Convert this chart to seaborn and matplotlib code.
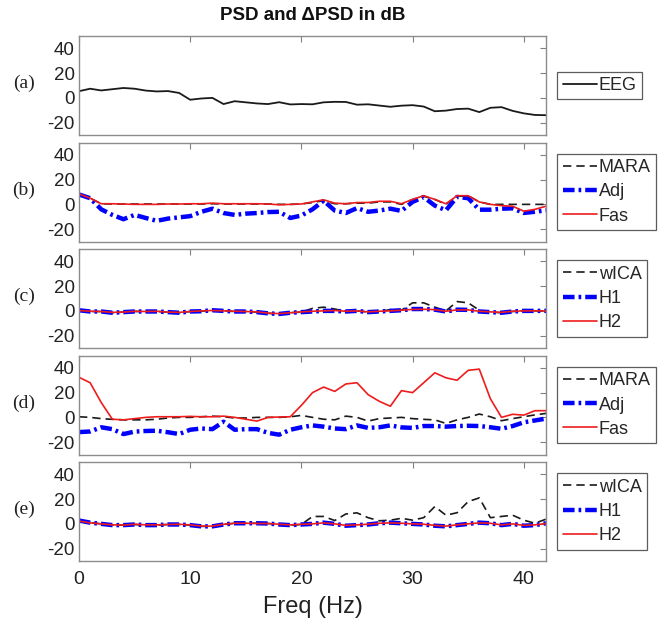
import numpy as np
import pandas as pd
import matplotlib
matplotlib.use("Agg")
import matplotlib.pyplot as plt
import seaborn as sns

# ---------------- data ----------------
freq = list(range(0, 43))

eeg = [5.4, 7.4, 6.0, 7.0, 8.0, 7.4, 5.9, 5.2, 5.5, 4.0, -1.5, -0.5, 0.0, -5.0, -2.7,
       -3.6, -4.5, -5.0, -3.5, -5.3, -5.0, -5.2, -3.6, -3.2, -3.3, -5.5, -5.2, -6.2,
       -7.2, -6.3, -5.9, -7.0, -10.8, -10.3, -9.0, -8.7, -11.5, -8.0, -7.5, -10.5,
       -12.5, -13.8, -14.0]

# panel (b)
b_mara = [8.0, 5.0, 0.5, 0.3, 0.3, 0.3, 0.3, 0.3, 0.3, 0.3, 0.3, 0.3, 0.5, 0.3, 0.3,
          0.3, 0.3, 0.3, 0.0, 0.0, 0.3, 1.5, 3.0, 0.5, 0.5, 1.0, 1.0, 2.0, 2.0, 0.0,
          4.0, 6.5, 4.0, 0.0, 6.5, 7.0, 2.0, 0.0, 0.0, 0.0, 0.0, 0.0, 0.0]
b_adj = [8.0, 5.0, -4.0, -8.5, -12.0, -8.5, -11.0, -13.3, -11.5, -10.5, -9.5, -6.0,
         -3.5, -7.0, -8.5, -7.5, -7.0, -6.2, -6.0, -11.0, -9.0, -4.0, 3.0, -5.0, -7.0,
         -3.0, -6.0, -5.0, -3.5, -5.3, 2.0, 5.9, -1.0, -4.8, 6.0, 5.0, -4.3, -4.3, -3.5,
         -3.2, -6.9, -6.0, -4.8]
b_fas = [8.5, 5.0, 0.5, 0.5, 0.3, 0.0, 0.0, 0.0, 0.3, 0.3, 0.5, 0.5, 1.0, 0.5, 0.5,
         0.5, 0.5, 0.3, -0.3, 0.0, 0.3, 2.0, 3.7, 1.0, 0.5, 1.5, 1.5, 2.5, 2.5, 0.5,
         4.0, 7.0, 4.0, 0.5, 7.0, 7.0, 2.0, 0.0, -1.0, -1.5, -5.5, -4.0, -1.5]

# panel (c)
c_wica = [0.5, -0.5, -0.5, -1.5, -1.0, -0.5, -0.5, -0.5, -1.0, -1.5, -0.5, -0.3, 0.5,
          0.0, -0.5, -0.5, -1.0, -2.0, -2.5, -1.5, -1.0, 2.0, 3.0, 1.5, -0.5, 0.0, -1.0,
          -0.5, 1.0, 0.5, 6.5, 6.5, 3.0, 0.0, 7.5, 6.5, 0.5, -1.0, -1.5, -0.5, 0.0, 0.0,
          0.0]
c_h1 = [0.5, -0.5, -0.5, -1.5, -1.0, -0.5, -0.5, -0.5, -1.0, -1.5, -0.5, -0.3, 0.5,
        0.0, -0.5, -0.5, -1.0, -2.0, -2.5, -1.5, -1.0, -0.5, 0.0, 0.0, -0.5, 0.0, -1.0,
        -0.5, 0.0, 0.5, 1.5, 1.5, 1.0, -0.5, 1.0, 0.8, -0.5, -1.0, -1.5, -0.5, 0.0, 0.0,
        0.0]
c_h2 = [0.3, -0.3, -0.5, -1.2, -1.0, -0.3, -0.5, -0.3, -1.0, -1.2, -0.5, 0.0, 0.3,
        0.0, -0.3, -0.5, -0.8, -1.8, -2.2, -1.5, -0.8, -0.3, 0.0, 0.3, -0.3, 0.0, -0.8,
        -0.3, 0.0, 0.5, 1.2, 1.3, 1.0, -0.3, 0.8, 0.8, -0.3, -0.8, -1.2, -0.3, 0.0, 0.0,
        0.0]

# panel (d)
d_mara = [0.5, 0.0, -1.0, -1.6, -2.0, -2.0, -2.0, -1.5, -0.5, 0.0, 0.0, 0.5, 1.0, 0.5,
          -0.5, -0.5, 0.0, 0.0, 0.0, 0.5, 1.6, 0.0, -1.5, -2.0, 1.0, 0.0, -3.0, -1.0,
          -0.5, 0.0, -1.0, -1.6, -2.0, -4.9, -2.0, 0.0, 2.7, 0.5, -2.7, -1.0, 0.5, 2.0,
          3.2]
d_adj = [-11.9, -11.4, -8.0, -9.5, -13.5, -11.5, -11.0, -10.8, -12.0, -13.5, -10.0,
         -9.0, -9.5, -3.5, -10.0, -9.5, -9.5, -12.5, -14.0, -10.0, -8.0, -6.5, -7.5,
         -9.0, -9.5, -6.5, -8.5, -8.0, -6.5, -8.1, -8.5, -7.0, -7.0, -7.5, -7.0, -6.8,
         -7.0, -8.0, -9.2, -7.0, -4.0, -2.5, -1.0]
d_fas = [32.4, 28.0, 12.0, -1.5, -2.0, -1.0, 0.0, 0.5, 0.5, 0.5, 0.8, 0.5, 0.5, 1.0,
         0.0, -1.5, -3.0, 0.0, 0.3, 0.5, 9.7, 20.0, 24.5, 21.0, 27.0, 28.0, 18.4, 13.0,
         9.0, 21.6, 20.0, 28.0, 36.0, 32.0, 30.0, 38.0, 39.0, 15.0, 0.0, 2.5, 1.8, 5.4,
         5.4]

# panel (e)
e_wica = [2.7, 1.0, 0.0, -1.0, -1.0, -0.5, -1.0, -1.0, -0.5, -0.5, -1.0, -2.0, -2.0,
          -0.5, 0.5, 0.5, 0.5, 0.3, -0.5, -1.0, -0.5, 6.0, 6.0, 2.7, 8.0, 8.9, 5.0, 2.5,
          3.0, 4.5, 3.0, 5.0, 14.0, 7.0, 9.0, 18.0, 21.0, 5.0, 6.0, 7.0, 3.0, 0.5, 3.8]
e_h1 = [2.7, 1.0, 0.0, -1.0, -1.0, -0.5, -1.0, -1.0, -0.5, -0.5, -1.0, -2.0, -2.0,
        -0.5, 0.5, 0.5, 0.5, 0.3, -0.5, -1.0, -0.5, 0.0, 1.0, 0.0, -1.5, -1.0, -0.5,
        0.5, 1.0, 0.5, 0.0, -0.5, -1.5, -2.0, -1.0, 0.0, 1.0, 0.5, -1.0, 0.0, -1.5,
        -1.0, 0.5]
e_h2 = [2.3, 0.8, 0.0, -0.8, -1.0, -0.3, -0.8, -0.8, -0.5, -0.3, -0.8, -1.8, -1.8,
        -0.3, 0.5, 0.5, 0.3, 0.3, -0.3, -0.8, -0.3, 0.0, 0.8, 0.0, -1.2, -0.8, -0.3,
        0.5, 0.8, 0.5, 0.0, -0.3, -1.2, -1.8, -0.8, 0.0, 0.8, 0.5, -0.8, 0.0, -1.2,
        -0.8, 0.3]

panel_labels = ["(a)", "(b)", "(c)", "(d)", "(e)"]
y_ticks = [-20, 0, 20, 40]
x_ticks = [0, 10, 20, 30, 40]
title = "PSD and \u0394PSD in dB"
xlabel = "Freq (Hz)"

# ---------------- styling ----------------
sns.set_style("white")
plt.rcParams["font.family"] = ["Liberation Sans", "DejaVu Sans"]
plt.rcParams["axes.unicode_minus"] = False

W, H = 668, 627
fig = plt.figure(figsize=(W / 100, H / 100), dpi=100)

left_px, right_px = 79, 546
top0, step, hgt = 36, 106.5, 99

BLACK = "#1a1a1a"
BLUE = "#0000ff"
RED = "#ee1c1c"

dash_black = (5, 3)
dash_blue = (2.6, 0.9, 0.6, 0.9)

panels = [
    [("EEG", eeg, BLACK, 1.3, None)],
    [("MARA", b_mara, BLACK, 1.2, dash_black), ("Adj", b_adj, BLUE, 3.2, dash_blue),
     ("Fas", b_fas, RED, 1.2, None)],
    [("wICA", c_wica, BLACK, 1.2, dash_black), ("H1", c_h1, BLUE, 3.2, dash_blue),
     ("H2", c_h2, RED, 1.2, None)],
    [("MARA", d_mara, BLACK, 1.2, dash_black), ("Adj", d_adj, BLUE, 3.2, dash_blue),
     ("Fas", d_fas, RED, 1.2, None)],
    [("wICA", e_wica, BLACK, 1.2, dash_black), ("H1", e_h1, BLUE, 3.2, dash_blue),
     ("H2", e_h2, RED, 1.2, None)],
]

axes = []
for i, series in enumerate(panels):
    top = top0 + step * i
    ax = fig.add_axes([left_px / W, 1 - (top + hgt) / H, (right_px - left_px) / W, hgt / H])
    axes.append(ax)
    for name, vals, col, lw, dash in series:
        df = pd.DataFrame({"f": freq, "v": vals})
        sns.lineplot(data=df, x="f", y="v", ax=ax, color=col, linewidth=lw, label=name)
        ln = ax.get_lines()[-1]
        if dash is not None:
            ln.set_dashes(dash)
    ax.set_xlim(0, 42)
    ax.set_ylim(-30, 50)
    ax.set_yticks(y_ticks)
    ax.set_xticks(x_ticks)
    ax.set_xlabel("")
    ax.set_ylabel("")
    ax.tick_params(direction="in", length=4, width=0.8, color="#808080",
                   labelsize=13.5, top=True, right=True, labelcolor="#222222", pad=3)
    ax.tick_params(axis="x", labelsize=14, pad=7)
    if i < 4:
        ax.tick_params(labelbottom=False)
    for s in ax.spines.values():
        s.set_color("#8c8c8c")
        s.set_linewidth(1.0)
    ax.text(-0.094, 0.52, panel_labels[i], transform=ax.transAxes, ha="right",
            va="center", fontsize=14, family=["Liberation Serif", "DejaVu Serif"],
            color="#222222")
    leg = ax.legend(loc="center left", bbox_to_anchor=(1.024, 0.5), frameon=True,
                    fancybox=False, edgecolor="#333333", fontsize=13,
                    handlelength=1.9, handletextpad=0.1, borderpad=0.3,
                    labelspacing=0.4, borderaxespad=0.0)
    leg.get_frame().set_linewidth(0.9)

axes[-1].set_xlabel(xlabel, fontsize=17, color="#222222", labelpad=6)
fig.text((left_px + right_px) / 2 / W, 1 - 16 / H, title, ha="center", va="center",
         fontsize=13.5, fontweight="bold", color="#111111")

fig.savefig("out.png", dpi=100)
